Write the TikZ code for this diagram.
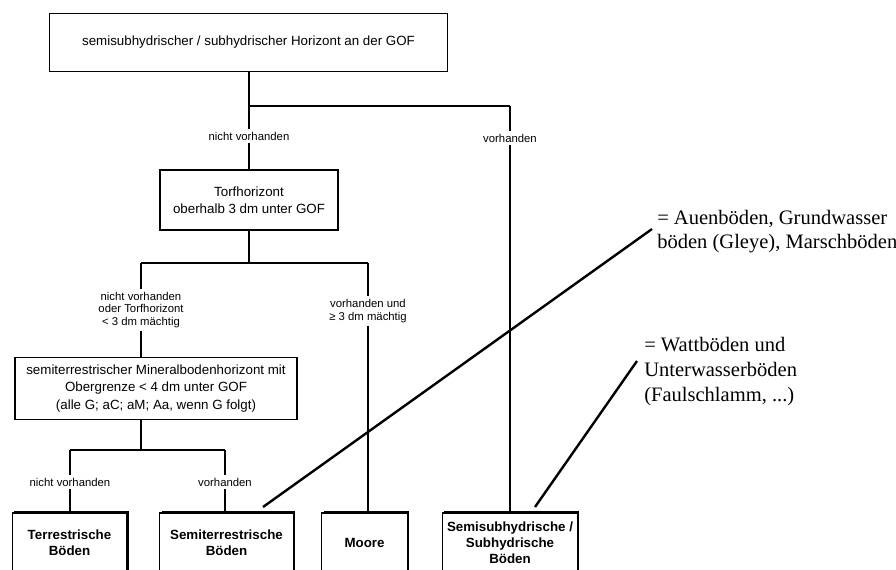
\documentclass[tikz,border=0pt]{standalone}
\usepackage{fontspec}
\setmainfont{Liberation Serif}
\setsansfont{Liberation Sans}
\usetikzlibrary{shadows}

\tikzset{
  frage/.style={draw, line width=0.8pt, align=center, inner sep=0pt,
    font=\sffamily\fontsize{10}{13}\selectfont},
  antwort/.style={align=center, inner sep=2pt,
    font=\sffamily\fontsize{8.5}{9.5}\selectfont},
  klasse/.style={draw, fill=white, line width=0.9pt, align=center,
    minimum height=45pt, font=\sffamily\bfseries\fontsize{10}{12}\selectfont,
    general shadow={fill=black, shadow xshift=1.4pt, shadow yshift=1.4pt}},
  ast/.style={line width=1.1pt},
  duenn/.style={line width=0.8pt},
  hinweis/.style={line width=1.8pt},
  notiz/.style={align=left, anchor=west, inner sep=0pt}
}

\begin{document}
\begin{tikzpicture}[x=0.75pt, y=-0.75pt]
  \def\xa{249}
  \def\xb{510}
  \def\xl{141}
  \def\xr{368}
  \def\yk{543}

  \useasboundingbox (0,0) rectangle (896,569);
  \clip (0,0) rectangle (896,569);
  \fill[white] (0,0) rectangle (896,569);

  % Fragen
  \node[frage, minimum width=298pt, minimum height=44pt] (gof) at (248.5,42.5)
    {semisubhydrischer / subhydrischer Horizont an der GOF};
  \node[frage, minimum width=133.5pt, minimum height=45pt] (torf) at (\xa,200)
    {Torfhorizont\\oberhalb 3 dm unter GOF};
  \node[frage, minimum width=211.5pt, minimum height=46pt] (mineral) at (156,388.5)
    {semiterrestrischer Mineralbodenhorizont mit\\Obergrenze < 4 dm unter GOF\\(alle G; aC; aM; Aa, wenn G folgt)};

  % Verzweigungen
  \coordinate (j1) at (\xa,106);
  \coordinate (j1r) at (\xb,106);
  \coordinate (j2) at (\xa,263);
  \coordinate (j2l) at (\xl,263);
  \coordinate (j2r) at (\xr,263);
  \coordinate (j3) at (\xl,450);
  \coordinate (j3l) at (70,450);
  \coordinate (j3r) at (225,450);

  % Antworten
  \node[antwort] (nv1) at (\xa,136) {nicht vorhanden};
  \node[antwort] (v1) at (\xb,138) {vorhanden};
  \node[antwort] (nv2) at (\xl,310) {nicht vorhanden\\oder Torfhorizont\\< 3 dm mächtig};
  \node[antwort] (v2) at (\xr,311) {vorhanden und\\≥ 3 dm mächtig};
  \node[antwort] (nv3) at (70,482) {nicht vorhanden};
  \node[antwort] (v3) at (225,482) {vorhanden};

  % Bodenabteilungen
  \node[klasse, minimum width=86pt] (terr) at (69.5,\yk) {Terrestrische\\Böden};
  \node[klasse, minimum width=100pt] (semi) at (226.5,\yk) {Semiterrestrische\\Böden};
  \node[klasse, minimum width=64pt] (moore) at (364.5,\yk) {Moore};
  \node[klasse, minimum width=101pt] (sub) at (\xb,\yk) {Semisubhydrische /\\Subhydrische\\Böden};

  % Linien
  \draw[ast] (gof.south -| j1) -- (j1) -- (j1r);
  \draw[ast] (j1) -- (nv1);
  \draw[ast] (nv1) -- (torf);
  \draw[duenn] (j1r) -- (v1);
  \draw[duenn] (v1) -- (sub.north);

  \draw[ast] (torf) -- (j2);
  \draw[ast] (j2l) -- (j2r);
  \draw[ast] (j2l) -- (nv2);
  \draw[ast] (j2r) -- (v2);
  \draw[ast] (nv2) -- (nv2 |- mineral.north);
  \draw[duenn] (v2) -- (v2 |- moore.north);

  \draw[ast] (mineral.south -| j3) -- (j3);
  \draw[ast] (j3l) -- (j3r);
  \draw[ast] (j3l) -- (nv3);
  \draw[ast] (j3r) -- (v3);
  \draw[ast] (nv3) -- (nv3 |- terr.north);
  \draw[ast] (v3) -- (v3 |- semi.north);

  % Anmerkungen
  \node[notiz, font=\fontsize{15.4}{18}\selectfont] (auen) at (657,232)
    {= Auenböden, Grundwasser\\böden (Gleye), Marschböden};
  \node[notiz, font=\fontsize{15.4}{18.75}\selectfont] (watt) at (644,372)
    {= Wattböden und\\Unterwasserböden\\(Faulschlamm, ...)};

  \coordinate (auenfuss) at (263,507);
  \coordinate (wattfuss) at (535,507);
  \draw[hinweis] (auenfuss) -- ([shift={(-5,-3)}]auen.west);
  \draw[hinweis] (wattfuss) -- ([shift={(-7,-11)}]watt.west);
\end{tikzpicture}
\end{document}
